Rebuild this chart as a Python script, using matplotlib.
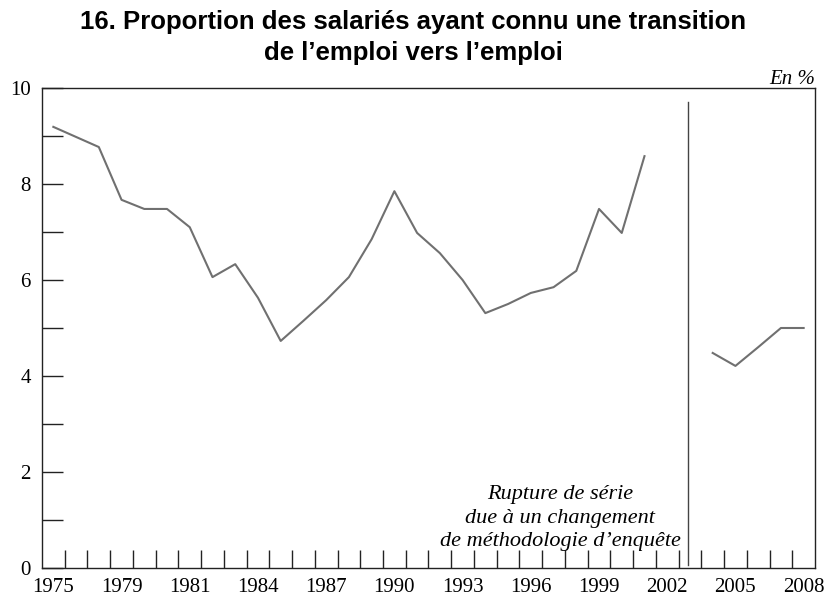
import matplotlib.pyplot as plt

# series before the break
years_a = list(range(1975, 2002))
values_a = [9.19, 8.98, 8.77, 7.67, 7.48, 7.48, 7.10, 6.06, 6.33, 5.63,
            4.73, 5.15, 5.58, 6.06, 6.85, 7.85, 6.98, 6.56, 6.00, 5.31,
            5.50, 5.73, 5.85, 6.19, 7.48, 6.98, 8.58]

# series after the break
years_b = [2004, 2005, 2006, 2007, 2008]
values_b = [4.48, 4.21, 4.60, 5.00, 5.00]

break_year = 2002.9
tick_years = [1975, 1978, 1981, 1984, 1987, 1990, 1993, 1996, 1999, 2002, 2005, 2008]
tick_labels = ["1975", "1979", "1981", "1984", "1987", "1990", "1993", "1996",
               "1999", "2002", "2005", "2008"]

serif = "Liberation Serif"
line_col = "#707070"

fig = plt.figure(figsize=(8.26, 6.01), dpi=100)
ax = fig.add_axes([0.0508, 0.0549, 0.9359, 0.7987])

ax.plot(years_a, values_a, color=line_col, lw=1.5)
ax.plot(years_b, values_b, color=line_col, lw=1.5)
ax.plot([break_year, break_year], [0.07, 9.7], color="#444444", lw=1.0)

ax.set_xlim(1974.5, 2008.5)
ax.set_ylim(0, 10)

# y ticks: every unit, labels every 2
ax.set_yticks(range(0, 11))
ax.set_yticklabels([str(v) if v % 2 == 0 else "" for v in range(0, 11)],
                   fontfamily=serif, fontsize=15)
ax.tick_params(axis="y", direction="in", length=15, width=1, pad=8, color="#222222")

# x ticks on year boundaries, labels centred on years
ax.set_xticks([y + 0.5 for y in range(1975, 2008)])
ax.set_xticklabels([])
ax.set_xticks(tick_years, minor=True)
ax.set_xticklabels(tick_labels, minor=True, fontfamily=serif, fontsize=15)
ax.tick_params(axis="x", which="major", direction="in", length=13, width=1, color="#222222")
ax.tick_params(axis="x", which="minor", length=0, pad=7)

for s in ax.spines.values():
    s.set_color("#222222")
    s.set_linewidth(1.0)

ax.text(1997.3, 1.04, "Rupture de série\ndue à un changement\nde méthodologie d\u2019enquête",
        ha="center", va="center", fontfamily=serif, fontstyle="italic",
        fontsize=16, linespacing=1.3)

fig.text(0.5, 0.984, "16. Proportion des salariés ayant connu une transition\nde l\u2019emploi vers l\u2019emploi",
         ha="center", va="top", fontfamily="Liberation Sans", fontweight="bold",
         fontsize=18.5, linespacing=1.4)
fig.text(0.987, 0.868, "En %", ha="right", va="center", fontfamily=serif,
         fontstyle="italic", fontsize=15)

fig.savefig("out.png", dpi=100)
